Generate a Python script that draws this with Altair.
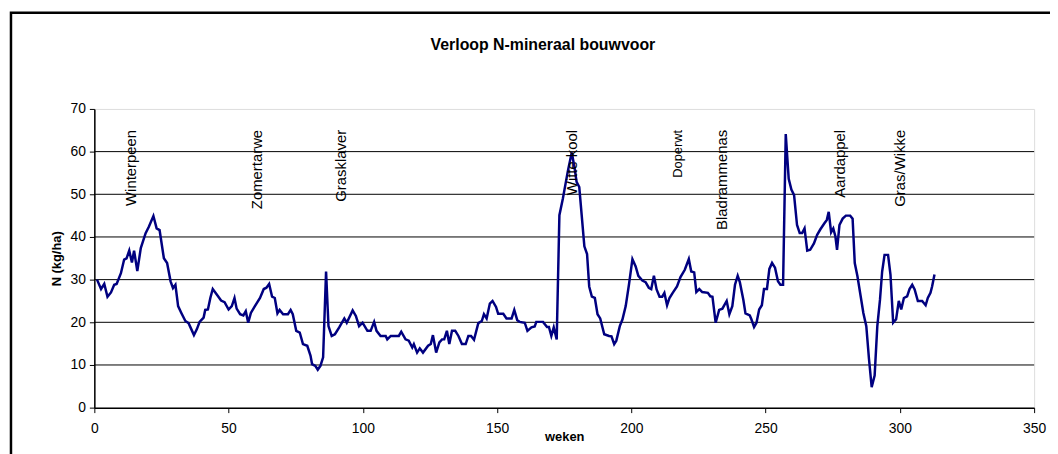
import altair as alt
import pandas as pd

# ---- data ----
weeks = [1, 2.5, 3.7, 4.9, 6.2, 7.4, 8.3, 9.9, 11.1, 12, 13, 14, 14.8, 16, 17.3, 19.1, 20.3, 22, 23.2, 24.3,
         25.9, 27.1, 28.4, 29.3, 30.2, 31.2, 32.4, 33.9, 35.1, 36.1, 37.1, 38.2, 39.2, 40.7, 41.3, 42.3, 43.2,
         44.1, 45.6, 47.2, 48.5, 50, 51.2, 52.2, 53, 54.3, 55.5, 56.4, 57.3, 58.3, 59.8, 61.7, 63.1,
         64.1, 65.1, 66.2, 67.2, 68.2, 69, 70.3, 72.1, 73.1, 73.9, 75.2, 76.5, 77.7, 79.3, 80.5, 81.1, 82.3,
         83.2, 84.2, 85.2, 86.3, 87.2, 88.4, 89.6, 91.2, 93.1, 94, 96.2, 97.4, 98.6, 99.9, 101.7, 102.9, 104.2,
         105.1, 106.6, 108.5, 109.1, 110.4, 113.4, 114.3, 115.9, 117.1, 118.4, 119, 120.2, 121.2, 122.4, 124.3,
         125.3, 126.1, 127.3,
         128.5, 129.5, 130.3, 131.3, 132.2, 133.2, 134.4, 135.6, 136.9, 138.3, 139.3, 140.3, 141.4, 143, 144.3,
         145.1, 146.1, 147.3, 148.3, 149.6, 150.4, 152.3, 153.5, 155.4, 156.4, 157.5, 158.4, 160.3, 161.3,
         162.8, 164, 164.6, 167.1, 168.6, 169.3, 170.2, 171.1, 172.2, 173.2, 174.5, 175.5, 176.4, 177.8, 178.8,
         179.6, 180.6, 181.5, 182.5, 183.5, 184.3, 185.3, 186.4, 187.4, 188.4,
         189.9, 191.7, 192.6, 193.6, 194.4, 195.7, 196.7, 197.9, 199.1, 200.4, 201.6, 202.6, 204.1, 205.3,
         206.5, 207.4, 208.4, 209.4, 210.5, 211.5, 212.3, 213.3, 214.2, 215.4, 217, 218.3, 219.9, 221.4, 222.3,
         223.4, 224.2, 225.3, 226.4, 228.5, 229.4, 230.2, 231.4, 232.7, 233.9, 235.5, 236.5, 237.6, 238.6,
         239.6, 240.4, 241.7, 242.5, 244.1, 244.7, 245.7, 246.6, 247.6, 248.6, 249.4, 250.5, 251.4, 252.4, 253.5,
         254.6, 255.5, 256.5, 257.5, 258.6, 259.6, 260.6, 261.7, 262.7, 263.6, 264.5, 265.5, 266.6, 268, 269.2,
         270.4, 271.9, 272.8, 273.5, 274.4, 275.2, 276, 276.6, 277.5, 278.7, 279.9, 281.5, 282.4, 283.2, 284.2,
         285.4, 286.4, 287.5, 288.5, 289.5, 290.6, 291.6, 292.6, 293.4, 294.3, 295.6, 296.5, 297.5, 298.6,
         299.6, 300.5, 301.5, 302.7, 303.6, 304.6, 305.5, 306.7, 308.3, 309.6, 310.4, 311.4, 312, 312.9]

n_mineral = [30, 27.8, 29, 26, 27, 28.8, 29, 31.5, 34.7, 35, 36.8, 34, 36.8, 32, 37.4, 40.9, 42.4, 44.9, 42, 41.6,
             35, 33.9, 29.6, 28, 28.8, 23.8, 22.2, 20.3, 19.8, 18.4, 17, 18.4, 20.1, 21.1, 22.9, 23, 25.7,
             27.8, 26.5, 25.1, 24.7, 23, 23.8, 25.7, 23.2, 21.9, 21.6, 22.6, 19.9, 22.2, 23.8, 25.7, 27.8,
             28.1, 29, 26, 25.7, 22.1, 22.9, 21.9, 21.9, 22.9, 21.9, 18, 17.6, 14.9, 14.5, 12.2, 10.2, 9.8,
             8.9, 9.8, 11.8, 31.9, 19.1, 16.8, 17.2, 18.8, 20.9, 19.9, 22.8, 21.5, 19.1, 19.9, 18, 18, 20.1,
             18, 16.8, 16.8, 16, 16.8, 16.8, 17.8, 16, 15.7, 14.1, 14.9, 12.9, 13.9, 12.9, 14.5,
             14.9, 17, 12.9,
             15.3, 16, 16, 18, 14.9, 18, 18, 16.8, 14.9, 14.9, 16.8, 16.8, 15.9, 19.8, 20.3,
             21.9, 20.9, 24.4, 25, 23.6, 22, 22, 20.9, 20.9, 22.9, 20.5, 20.1, 19.9, 18,
             18.8, 19, 20.1, 20.1, 18.9, 18.9, 16.8, 18.8, 16, 45.1, 49, 52.5, 55.6, 59.8, 56.4,
             52.9, 51.7, 45.1, 37.8, 36, 28.4, 26, 25.7, 21.9, 20.9,
             17.2, 16.8, 16.7, 14.9, 15.7, 19.1, 20.7, 23.8, 28.8, 34.8, 33.1, 30.9, 29.8, 29.4,
             28.1, 27.8, 30.9, 27.7, 26, 26, 26.9, 24, 25.7, 26.9, 28.4, 30.6, 32.3, 34.8, 31.9,
             31.7, 27.1, 27.8, 27.1, 26.9, 26.1, 26, 19.9, 22.9, 23.2, 25, 21.9, 23.8, 28.8,
             30.9, 29.4, 25.3, 22.1, 21.6, 20.7, 18.9, 19.9, 23, 24, 27.8, 27.8, 32.5, 33.9, 32.8,
             29.6, 28.8, 28.8, 64.1, 53.6, 51.1, 49.8, 42.8, 40.9, 40.9, 42, 36.8, 37, 38.5, 40.5,
             41.8, 43.2, 44, 45.9, 41.1, 42, 40.1, 37, 42.8, 44.3, 45, 45, 44.3, 33.9, 30.8,
             26.1, 22.2, 19.1, 11.4, 4.8, 7.5, 19.1, 25.3, 31.9, 35.8, 35.8, 31.2, 19.9, 20.7,
             25, 23, 25.7, 26.1, 27.8, 28.8, 27.7, 25, 25, 24, 25.7, 26.9, 28.4, 31.2]

crop_labels = ["Winterpeen", "Zomertarwe", "Grasklaver", "Witte kool",
               "Doperwt", "Bladrammenas", "Aardappel", "Gras/Wikke"]
crop_weeks = [13.6, 60.6, 92.0, 177.8, 217.5, 233.8, 277.8, 300.2]
crop_label_top = 65.1

x_ticks = [0, 50, 100, 150, 200, 250, 300, 350]
y_ticks = [0, 10, 20, 30, 40, 50, 60, 70]
grid_values = [10, 20, 30, 40, 50, 60]

title_text = "Verloop N-mineraal bouwvoor"
x_title = "weken"
y_title = "N (kg/ha)"

# ---- tables ----
df = pd.DataFrame({"week": weeks, "N": n_mineral})
labels_df = pd.DataFrame({"week": crop_weeks, "label": crop_labels,
                          "top": [crop_label_top] * len(crop_labels)})
grid_df = pd.DataFrame({"g": grid_values})

FONT = "Liberation Sans"
x_scale = alt.Scale(domain=[0, 350], nice=False, zero=False)
y_scale = alt.Scale(domain=[0, 70], nice=False, zero=False)

x_axis = alt.Axis(values=x_ticks, title=x_title, grid=False, domainColor="black", domainWidth=1.5,
                  tickColor="black", tickSize=5, tickWidth=1, labelFont=FONT, labelFontSize=14,
                  labelColor="black", labelPadding=9, labelFlush=False, titleFont=FONT, titleFontSize=13,
                  titleFontWeight="bold", titleColor="black", titleY=29, titleBaseline="middle")
y_axis = alt.Axis(values=y_ticks, title=y_title, grid=False, domainColor="black", domainWidth=1.5,
                  tickColor="black", tickSize=5, tickWidth=1, labelFont=FONT, labelFontSize=14,
                  labelColor="black", labelPadding=4, titleFont=FONT, titleFontSize=13,
                  titleFontWeight="bold", titleColor="black", titlePadding=7)

border = alt.Chart(alt.Data(values=[{}])).mark_rect(
    filled=False, stroke="black", strokeWidth=2.5
).encode(x=alt.value(-84), x2=alt.value(1000), y=alt.value(-97), y2=alt.value(400))

grid = alt.Chart(grid_df).mark_rule(color="black", strokeWidth=1).encode(
    y=alt.Y("g:Q", scale=y_scale, axis=y_axis)
)

line = alt.Chart(df).mark_line(color="#000080", strokeWidth=2.5).encode(
    x=alt.X("week:Q", scale=x_scale, axis=x_axis),
    y=alt.Y("N:Q", scale=y_scale, axis=y_axis),
)

big_labels = alt.Chart(labels_df).transform_filter(
    alt.datum.label != "Doperwt"
).mark_text(angle=270, align="right", baseline="middle", font=FONT, fontSize=15, color="black").encode(
    x=alt.X("week:Q", scale=x_scale), y=alt.Y("top:Q", scale=y_scale), text="label:N"
)
small_labels = alt.Chart(labels_df).transform_filter(
    alt.datum.label == "Doperwt"
).mark_text(angle=270, align="right", baseline="middle", font=FONT, fontSize=13, color="black").encode(
    x=alt.X("week:Q", scale=x_scale), y=alt.Y("top:Q", scale=y_scale), text="label:N"
)

title = alt.Chart(alt.Data(values=[{}])).mark_text(
    font=FONT, fontSize=16, fontWeight="bold", color="black", align="center", baseline="middle"
).encode(x=alt.value(452), y=alt.value(-64), text=alt.value(title_text))

chart = alt.layer(border, grid, line, big_labels, small_labels, title).properties(
    width=947, height=301,
    autosize=alt.AutoSizeParams(type="none"),
    padding={"left": 87, "top": 100, "right": 16, "bottom": 45},
).configure_view(stroke="#808080", strokeWidth=2).configure(background="white")

chart.save("out.html", embed_options={"renderer": "svg", "actions": False})
